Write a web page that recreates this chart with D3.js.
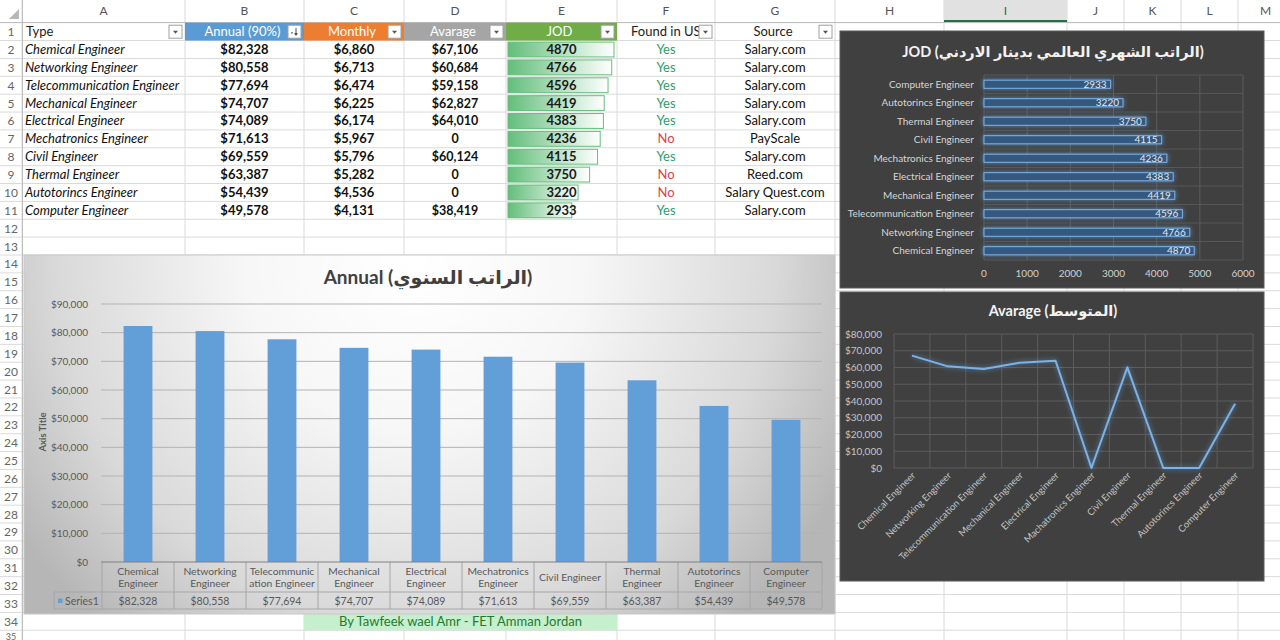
<!DOCTYPE html>
<html><head><meta charset="utf-8">
<script src="https://cdn.jsdelivr.net/npm/d3@7"></script>
<style>
html,body{margin:0;padding:0;background:#fff;overflow:hidden}
svg{display:block}
text{font-family:Lato,"DejaVu Sans",sans-serif}
</style></head><body>
<svg id="s" width="1280" height="640"></svg>
<script>
// ---------- DATA ----------
const types = ["Chemical Engineer","Networking Engineer","Telecommunication Engineer","Mechanical Engineer","Electrical Engineer","Mechatronics Engineer","Civil Engineer","Thermal Engineer","Autotorincs Engineer","Computer Engineer"];
const annual = [82328,80558,77694,74707,74089,71613,69559,63387,54439,49578];
const monthly = [6860,6713,6474,6225,6174,5967,5796,5282,4536,4131];
const average = [67106,60684,59158,62827,64010,0,60124,0,0,38419];
const jod = [4870,4766,4596,4419,4383,4236,4115,3750,3220,2933];
const foundInUSA = ["Yes","Yes","Yes","Yes","Yes","No","Yes","No","No","Yes"];
const sources = ["Salary.com","Salary.com","Salary.com","Salary.com","Salary.com","PayScale","Salary.com","Reed.com","Salary Quest.com","Salary.com"];
const headers = ["Type","Annual (90%)","Monthly","Avarage","JOD","Found in USA","Source"];
const columnLetters = ["A","B","C","D","E","F","G","H","I","J","K","L","M"];
const annualCatLines = [["Chemical","Engineer"],["Networking","Engineer"],["Telecommunic","ation Engineer"],["Mechanical","Engineer"],["Electrical","Engineer"],["Mechatronics","Engineer"],["Civil Engineer"],["Thermal","Engineer"],["Autotorincs","Engineer"],["Computer","Engineer"]];
const lineCategories = ["Chemical Engineer","Networking Engineer","Telecommunication Engineer","Mechanical Engineer","Electrical Engineer","Machatronics Engineer","Civil Engineer","Thermal Engineer","Autotorincs Engineer","Computer Engineer"];
const annualTicks = [0,10000,20000,30000,40000,50000,60000,70000,80000,90000];
const averageTicks = [0,10000,20000,30000,40000,50000,60000,70000,80000];
const jodTicks = [0,1000,2000,3000,4000,5000,6000];
const annualTitle = "Annual (الراتب السنوي)";
const jodTitle = "JOD (الراتب الشهري العالمي بدينار الاردني)";
const averageTitle = "Avarage (المتوسط)";
const seriesName = "Series1";
const credit = "By Tawfeek wael Amr - FET Amman Jordan";

// ---------- LAYOUT ----------
const svg = d3.select("#s");
const colX = [22,185,304,404,506,617,715,835,944,1067,1124,1181,1238,1293];
const rowH = 17.87, row0 = 22.7;
const rowTop = n => row0 + (n-1)*rowH;
const rowMid = n => rowTop(n) + rowH/2;
const money = d3.format("$,");

const defs = svg.append("defs");
const glow = defs.append("filter").attr("id","glow").attr("filterUnits","userSpaceOnUse")
  .attr("x",830).attr("y",20).attr("width",450).attr("height",580);
glow.append("feGaussianBlur").attr("in","SourceAlpha").attr("stdDeviation",2.4).attr("result","b");
glow.append("feFlood").attr("flood-color","#5b9bd5").attr("flood-opacity",0.8);
glow.append("feComposite").attr("in2","b").attr("operator","in").attr("result","g");
const fm = glow.append("feMerge"); fm.append("feMergeNode").attr("in","g"); fm.append("feMergeNode").attr("in","SourceGraphic");

const dbg = defs.append("linearGradient").attr("id","databar");
dbg.append("stop").attr("offset","0").attr("stop-color","#63be7b");
dbg.append("stop").attr("offset","1").attr("stop-color","#ffffff");

const rg = defs.append("radialGradient").attr("id","annualBg").attr("gradientUnits","userSpaceOnUse")
  .attr("cx",415).attr("cy",262).attr("r",480);
[[0,"#ffffff"],[0.35,"#f7f7f7"],[0.75,"#d9d9d9"],[1,"#b6b6b6"]].forEach(s=>rg.append("stop").attr("offset",s[0]).attr("stop-color",s[1]));

defs.append("clipPath").attr("id","fclip").append("rect").attr("x",617).attr("y",20).attr("width",82).attr("height",24);

// ---------- SHEET GRID ----------
const grid = svg.append("g");
for (let n=1;n<=36;n++){
  grid.append("line").attr("x1",0).attr("x2",1280).attr("y1",rowTop(n)).attr("y2",rowTop(n)).attr("stroke","#dadada");
}
colX.forEach(x=>grid.append("line").attr("x1",x).attr("x2",x).attr("y1",0).attr("y2",640).attr("stroke","#dadada"));
grid.append("rect").attr("x",944).attr("y",0).attr("width",123).attr("height",22).attr("fill","#e1e1e1");
grid.append("line").attr("x1",944).attr("x2",1067).attr("y1",21).attr("y2",21).attr("stroke","#217346").attr("stroke-width",2);
grid.append("line").attr("x1",0).attr("x2",1280).attr("y1",22.5).attr("y2",22.5).attr("stroke","#bdbdbd");
grid.append("line").attr("x1",22.5).attr("x2",22.5).attr("y1",0).attr("y2",640).attr("stroke","#bdbdbd");
grid.append("path").attr("d","M19,9 L19,19 L9,19 Z").attr("fill","#b8b8b8");
columnLetters.forEach((c,i)=>{
  grid.append("text").attr("x",(colX[i]+colX[i+1])/2).attr("y",15).attr("text-anchor","middle")
    .attr("font-size",12).attr("fill",c==="I"?"#217346":"#555").text(c);
});
for (let n=1;n<=35;n++){
  const last = n===35;
  grid.append("text").attr("x",11).attr("y",last?639.5:rowMid(n)+4.5).attr("text-anchor","middle")
    .attr("font-size",last?9:12).attr("fill","#666").text(n);
}

// ---------- TABLE ----------
const tbl = svg.append("g");
const hdrFill = [null,"#5b9bd5","#ed7d31","#a5a5a5","#70ad47",null,null];
headers.forEach((h,i)=>{
  const x0=colX[i], x1=colX[i+1];
  if (hdrFill[i]) tbl.append("rect").attr("x",x0).attr("y",rowTop(1)).attr("width",x1-x0).attr("height",rowH).attr("fill",hdrFill[i]);
  const t = tbl.append("text").attr("y",rowMid(1)+4.5).attr("font-size",13)
    .attr("fill",hdrFill[i]?"#ffffff":"#222").text(h);
  if (i===0) t.attr("x",x0+4);
  else if (i===5) t.attr("x",x0+14).attr("clip-path","url(#fclip)");
  else t.attr("x",(x0+x1)/2 - 2).attr("text-anchor","middle");
  const bx=x1-16, by=rowTop(1)+2.5;
  tbl.append("rect").attr("x",bx).attr("y",by).attr("width",13).attr("height",13).attr("fill","#fff").attr("stroke","#a0a0a0");
  if (i===1){
    tbl.append("path").attr("d",`M${bx+3},${by+7} l2,0 l-1,2 z`).attr("fill","#444");
    tbl.append("line").attr("x1",bx+8).attr("x2",bx+8).attr("y1",by+3).attr("y2",by+10).attr("stroke","#444");
    tbl.append("path").attr("d",`M${bx+6},${by+8} l4,0 l-2,2.5 z`).attr("fill","#444");
  } else {
    tbl.append("path").attr("d",`M${bx+4},${by+5.5} l5,0 l-2.5,3 z`).attr("fill","#555");
  }
});
const dataW = d3.scaleLinear().domain([0,d3.max(jod)]).range([0,106]);
types.forEach((t,i)=>{
  const r=i+2, ym=rowMid(r)+4.5;
  tbl.append("text").attr("x",colX[0]+3).attr("y",ym).attr("font-size",13).attr("font-style","italic").attr("fill","#111").text(t);
  tbl.append("text").attr("x",(colX[1]+colX[2])/2).attr("y",ym).attr("text-anchor","middle").attr("font-size",13).attr("font-weight","bold").attr("fill","#111").text(money(annual[i]));
  tbl.append("text").attr("x",(colX[2]+colX[3])/2).attr("y",ym).attr("text-anchor","middle").attr("font-size",13).attr("font-weight","bold").attr("fill","#111").text(money(monthly[i]));
  tbl.append("text").attr("x",(colX[3]+colX[4])/2).attr("y",ym).attr("text-anchor","middle").attr("font-size",12.5).attr("font-weight","bold").attr("fill","#111").text(average[i]===0?"0":money(average[i]));
  tbl.append("rect").attr("x",colX[4]+2).attr("y",rowTop(r)+1.5).attr("width",dataW(jod[i])).attr("height",rowH-3)
    .attr("fill","url(#databar)").attr("stroke","#63be7b").attr("stroke-width",1);
  tbl.append("text").attr("x",(colX[4]+colX[5])/2).attr("y",ym).attr("text-anchor","middle").attr("font-size",13).attr("font-weight","bold").attr("fill","#1a1a1a").text(jod[i]);
  tbl.append("text").attr("x",(colX[5]+colX[6])/2).attr("y",ym).attr("text-anchor","middle").attr("font-size",13)
    .attr("fill",foundInUSA[i]==="Yes"?"#2f9e6b":"#e2424a").text(foundInUSA[i]);
  tbl.append("text").attr("x",(colX[6]+colX[7])/2).attr("y",ym).attr("text-anchor","middle").attr("font-size",13).attr("fill","#111").text(sources[i]);
});
tbl.append("rect").attr("x",colX[2]).attr("y",rowTop(34)).attr("width",colX[5]-colX[2]).attr("height",rowH).attr("fill","#c6efce");
tbl.append("text").attr("x",(colX[2]+colX[5])/2).attr("y",rowMid(34)+4.5).attr("text-anchor","middle").attr("font-size",13).attr("fill","#1f7a2e").text(credit);

// ---------- ANNUAL CHART ----------
const A = svg.append("g");
A.append("rect").attr("x",24).attr("y",255).attr("width",811).attr("height",359).attr("fill","url(#annualBg)").attr("stroke","#c8c8c8");
A.append("text").attr("x",428).attr("y",284).attr("text-anchor","middle").attr("font-size",19).attr("font-weight","bold").attr("fill","#404040").text(annualTitle);
const ay = d3.scaleLinear().domain([0,90000]).range([562,304]);
const ax = d3.scaleBand().domain(types).range([102,822]).paddingInner(0.6).paddingOuter(0.3);
A.append("g").selectAll("line").data(annualTicks.slice(1)).join("line")
  .attr("x1",101).attr("x2",822).attr("y1",d=>ay(d)).attr("y2",d=>ay(d)).attr("stroke","#b3b3b3");
A.append("g").selectAll("text").data(annualTicks).join("text")
  .attr("x",88).attr("y",d=>ay(d)+3.5).attr("text-anchor","end").attr("font-size",10).attr("fill","#595959").text(d=>money(d));
A.append("text").attr("transform","translate(46,432) rotate(-90)").attr("text-anchor","middle").attr("font-size",9.5).attr("font-weight","bold").attr("fill","#595959").text("Axis Title");
A.append("g").selectAll("rect").data(types).join("rect")
  .attr("x",d=>ax(d)).attr("width",ax.bandwidth()).attr("y",(d,i)=>ay(annual[i])).attr("height",(d,i)=>ay(0)-ay(annual[i])).attr("fill","#629fd8");
const step = ax.step(), tx0 = 102, tx1 = 822;
const dt = A.append("g").attr("stroke","#a6a6a6").attr("fill","none");
dt.append("line").attr("x1",54).attr("x2",tx1).attr("y1",592).attr("y2",592);
dt.append("line").attr("x1",54).attr("x2",tx1).attr("y1",609).attr("y2",609);
dt.append("line").attr("x1",54).attr("x2",54).attr("y1",592).attr("y2",609);
d3.range(11).forEach(k=>dt.append("line").attr("x1",tx0+k*step).attr("x2",tx0+k*step).attr("y1",562).attr("y2",609));
A.append("line").attr("x1",101).attr("x2",tx1).attr("y1",562).attr("y2",562).attr("stroke","#808080");
types.forEach((t,i)=>{
  const cx = ax(t)+ax.bandwidth()/2, lines = annualCatLines[i];
  lines.forEach((l,j)=>{
    const y = lines.length===1 ? 580.5 : 574.5 + j*12.5;
    A.append("text").attr("x",cx).attr("y",y).attr("text-anchor","middle").attr("font-size",10.3).attr("fill","#595959").text(l);
  });
  A.append("text").attr("x",cx).attr("y",604.5).attr("text-anchor","middle").attr("font-size",10.5).attr("fill","#595959").text(money(annual[i]));
});
A.append("rect").attr("x",58).attr("y",598.5).attr("width",4.5).attr("height",4.5).attr("fill","#629fd8");
A.append("text").attr("x",65).attr("y",604.5).attr("font-size",10.5).attr("fill","#595959").text(seriesName);

// ---------- JOD CHART ----------
const J = svg.append("g");
J.append("rect").attr("x",840).attr("y",31).attr("width",424).attr("height",257).attr("fill","#404040").attr("stroke","#5a5a5a");
J.append("text").attr("x",1053).attr("y",57).attr("text-anchor","middle").attr("font-size",14.5).attr("font-weight","bold").attr("fill","#f2f2f2").text(jodTitle);
const jx = d3.scaleLinear().domain([0,6000]).range([984,1243]);
const jy = d3.scaleBand().domain(types.slice().reverse()).range([75,260]).paddingInner(0.56).paddingOuter(0.28);
J.append("g").selectAll("line").data(d3.range(11)).join("line")
  .attr("x1",984).attr("x2",1243).attr("y1",k=>75+k*jy.step()).attr("y2",k=>75+k*jy.step()).attr("stroke","#575757");
J.append("g").selectAll("line").data(jodTicks).join("line")
  .attr("x1",d=>jx(d)).attr("x2",d=>jx(d)).attr("y1",75).attr("y2",260).attr("stroke","#5c5c5c");
J.append("g").selectAll("text").data(jodTicks).join("text")
  .attr("x",d=>jx(d)).attr("y",277).attr("text-anchor","middle").attr("font-size",10).attr("fill","#d0d0d0").text(d=>d);
J.append("g").selectAll("text").data(types).join("text")
  .attr("x",974).attr("y",d=>jy(d)+jy.bandwidth()/2+3.5).attr("text-anchor","end").attr("font-size",10).attr("fill","#d6d6d6").text(d=>d);
J.append("g").attr("filter","url(#glow)").selectAll("rect").data(types).join("rect")
  .attr("x",jx(0)).attr("y",d=>jy(d)).attr("height",jy.bandwidth()).attr("width",(d,i)=>jx(jod[i])-jx(0))
  .attr("fill","#36597f").attr("stroke","#7db2e6").attr("stroke-width",1);
J.append("g").selectAll("text").data(types).join("text")
  .attr("x",(d,i)=>jx(jod[i])-4).attr("y",d=>jy(d)+jy.bandwidth()/2+3.5).attr("text-anchor","end").attr("font-size",10).attr("fill","#e6e6e6").text((d,i)=>jod[i]);

// ---------- AVERAGE CHART ----------
const V = svg.append("g");
V.append("rect").attr("x",840).attr("y",292).attr("width",424).attr("height",289).attr("fill","#404040").attr("stroke","#5a5a5a");
V.append("text").attr("x",1053).attr("y",316).attr("text-anchor","middle").attr("font-size",14.5).attr("font-weight","bold").attr("fill","#f2f2f2").text(averageTitle);
const vy = d3.scaleLinear().domain([0,80000]).range([468,334]);
const vx = d3.scaleBand().domain(lineCategories).range([894,1253]);
V.append("g").selectAll("line").data(averageTicks).join("line")
  .attr("x1",894).attr("x2",1253).attr("y1",d=>vy(d)).attr("y2",d=>vy(d)).attr("stroke","#5c5c5c");
V.append("g").selectAll("line").data(d3.range(11)).join("line")
  .attr("x1",k=>894+k*vx.step()).attr("x2",k=>894+k*vx.step()).attr("y1",334).attr("y2",468).attr("stroke","#5c5c5c");
V.append("g").selectAll("text").data(averageTicks).join("text")
  .attr("x",882).attr("y",d=>vy(d)+3.5).attr("text-anchor","end").attr("font-size",10).attr("fill","#c4c4c4").text(d=>money(d));
const line = d3.line().x((d,i)=>vx(lineCategories[i])+vx.bandwidth()/2).y(d=>vy(d));
V.append("path").datum(average).attr("d",line).attr("fill","none").attr("stroke","#7db2e6").attr("stroke-width",2)
  .attr("stroke-linejoin","round").attr("filter","url(#glow)");
V.append("g").selectAll("text").data(lineCategories).join("text")
  .attr("transform",d=>`translate(${vx(d)+vx.bandwidth()/2+4},${476}) rotate(-45)`)
  .attr("text-anchor","end").attr("font-size",9.5).attr("fill","#c4c4c4").text(d=>d);
</script>
</body></html>
